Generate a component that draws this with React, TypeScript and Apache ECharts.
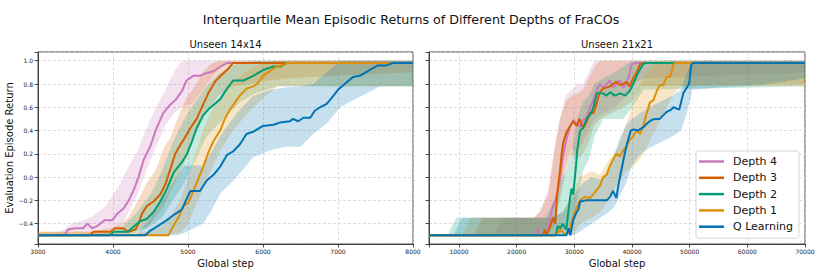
import React, { useEffect, useRef } from "react";
import * as echarts from "echarts";

// ---------- Data ----------
const SERIES_NAMES = ["Depth 4", "Depth 3", "Depth 2", "Depth 1", "Q Learning"];
const COLORS = ["#cc78bc", "#d55e00", "#029e73", "#de8f05", "#0173b2"];
const Y_TICKS = [-0.4, -0.2, 0.0, 0.2, 0.4, 0.6, 0.8, 1.0];
const LEFT_X_TICKS = [3000, 4000, 5000, 6000, 7000, 8000];
const RIGHT_X_TICKS = [10000, 20000, 30000, 40000, 50000, 60000, 70000];

// Unseen 14x14 — IQM lines [step, return]
const d4Left = [[3000,-0.5],[3350,-0.5],[3400,-0.45],[3500,-0.44],[3600,-0.44],[3660,-0.40],[3720,-0.44],[3790,-0.42],[3890,-0.37],[3990,-0.37],[4050,-0.32],[4140,-0.27],[4210,-0.20],[4270,-0.12],[4340,0.0],[4410,0.15],[4500,0.27],[4580,0.42],[4670,0.55],[4760,0.62],[4830,0.66],[4920,0.74],[4980,0.83],[5070,0.87],[5160,0.87],[5230,0.89],[5340,0.91],[5430,0.95],[5520,0.98],[8000,0.98]];
const d3Left = [[3000,-0.5],[3690,-0.5],[3740,-0.47],[3960,-0.47],[4030,-0.44],[4140,-0.44],[4200,-0.47],[4300,-0.45],[4340,-0.40],[4390,-0.31],[4450,-0.25],[4540,-0.21],[4630,-0.15],[4700,-0.06],[4760,0.06],[4830,0.20],[4900,0.28],[4960,0.34],[5030,0.42],[5115,0.50],[5200,0.62],[5270,0.72],[5360,0.82],[5450,0.88],[5520,0.92],[5600,0.98],[8000,0.98]];
const d2Left = [[3000,-0.5],[3950,-0.5],[4010,-0.47],[4200,-0.47],[4250,-0.44],[4360,-0.38],[4450,-0.36],[4540,-0.30],[4630,-0.21],[4720,-0.10],[4810,0.04],[4920,0.13],[4980,0.19],[5050,0.30],[5115,0.42],[5200,0.53],[5270,0.58],[5340,0.62],[5430,0.67],[5520,0.76],[5600,0.83],[5740,0.83],[5870,0.87],[6000,0.92],[6140,0.95],[6230,0.95],[6310,0.98],[8000,0.98]];
const d1Left = [[3000,-0.5],[4740,-0.5],[4805,-0.42],[4870,-0.35],[4940,-0.25],[5005,-0.22],[5070,-0.12],[5140,-0.01],[5205,0.09],[5270,0.21],[5340,0.31],[5430,0.40],[5490,0.50],[5560,0.58],[5690,0.70],[5780,0.76],[5870,0.78],[5920,0.80],[6000,0.87],[6090,0.91],[6180,0.95],[6250,0.96],[6320,0.98],[8000,0.98]];
const qLeft = [[3000,-0.5],[4430,-0.5],[4500,-0.46],[4600,-0.42],[4717,-0.37],[4800,-0.33],[4917,-0.28],[5030,-0.12],[5160,-0.12],[5250,-0.03],[5340,0.02],[5430,0.09],[5520,0.19],[5600,0.22],[5690,0.28],[5780,0.37],[5870,0.39],[6000,0.44],[6140,0.45],[6230,0.47],[6360,0.48],[6400,0.50],[6470,0.48],[6540,0.51],[6630,0.51],[6690,0.57],[6760,0.60],[6850,0.63],[6940,0.70],[7000,0.75],[7090,0.80],[7200,0.86],[7290,0.87],[7420,0.92],[7530,0.96],[7650,0.96],[7730,0.98],[8000,0.98]];

// Unseen 14x14 — interquartile bands [step, lower, upper]
const d4LeftBand = [[3000,-0.5,-0.48],[3300,-0.5,-0.47],[3450,-0.48,-0.40],[3700,-0.48,-0.35],[3900,-0.46,-0.25],[4100,-0.42,-0.05],[4200,-0.32,0.08],[4330,-0.14,0.23],[4500,0.15,0.50],[4700,0.45,0.75],[4830,0.56,0.92],[4920,0.60,1.0],[5050,0.63,1.0],[5200,0.75,1.0],[5350,0.88,1.0],[5500,0.98,1.0],[8000,0.98,1.0]];
const d3LeftBand = [[3000,-0.5,-0.47],[3700,-0.5,-0.47],[4000,-0.48,-0.43],[4100,-0.48,-0.40],[4200,-0.48,-0.35],[4333,-0.46,-0.20],[4450,-0.44,-0.05],[4560,-0.35,0.05],[4680,-0.25,0.25],[4773,-0.12,0.35],[4900,0.05,0.57],[5000,0.20,0.70],[5080,0.35,0.77],[5200,0.50,0.90],[5300,0.60,0.97],[5400,0.70,1.0],[5600,0.78,1.0],[6300,0.85,1.0],[8000,0.90,1.0]];
const d2LeftBand = [[3000,-0.5,-0.5],[3900,-0.5,-0.48],[4100,-0.5,-0.44],[4300,-0.48,-0.32],[4500,-0.42,-0.15],[4650,-0.35,0.05],[4800,-0.20,0.30],[4950,-0.05,0.50],[5100,0.15,0.65],[5250,0.35,0.78],[5400,0.45,0.88],[5550,0.55,0.95],[5700,0.65,0.98],[5900,0.72,1.0],[6200,0.78,1.0],[8000,0.78,1.0]];
const d1LeftBand = [[3000,-0.5,-0.47],[4500,-0.5,-0.47],[4700,-0.5,-0.40],[4900,-0.48,-0.20],[5000,-0.40,0.0],[5100,-0.25,0.20],[5200,-0.10,0.40],[5300,0.05,0.55],[5450,0.25,0.70],[5600,0.40,0.82],[5800,0.55,0.92],[6000,0.68,0.98],[6200,0.78,1.0],[8000,0.78,1.0]];
const qLeftBand = [[3000,-0.5,-0.5],[4300,-0.5,-0.5],[4500,-0.5,-0.35],[4700,-0.5,-0.15],[4850,-0.5,0.0],[4950,-0.48,0.10],[5200,-0.40,0.10],[5300,-0.30,0.20],[5430,-0.14,0.35],[5650,0.0,0.55],[5870,0.17,0.70],[6100,0.23,0.75],[6300,0.26,0.77],[6500,0.26,0.78],[6670,0.37,0.80],[6850,0.46,0.90],[7030,0.60,1.0],[7200,0.66,1.0],[7390,0.72,1.0],[7560,0.78,1.0],[8000,0.78,1.0]];

// Unseen 21x21 — IQM lines [step, return]
const d4Right = [[4800,-0.5],[23500,-0.5],[23700,-0.44],[23900,-0.5],[25200,-0.5],[25700,-0.37],[26300,-0.25],[26900,-0.17],[27500,-0.02],[28000,0.17],[28600,0.32],[29200,0.43],[29800,0.49],[30400,0.46],[31000,0.43],[31500,0.49],[32100,0.51],[32700,0.60],[33300,0.66],[33800,0.74],[34400,0.80],[35000,0.77],[35600,0.80],[36200,0.83],[36700,0.77],[37300,0.80],[37900,0.83],[38500,0.77],[39000,0.80],[39600,0.89],[39900,0.97],[40800,0.98],[70000,0.98]];
const d3Right = [[4800,-0.5],[24600,-0.5],[24900,-0.45],[25200,-0.5],[25700,-0.44],[26300,-0.35],[26700,-0.40],[27000,-0.15],[27500,0.05],[27800,0.20],[28100,0.30],[28600,0.38],[29200,0.43],[29800,0.48],[30400,0.44],[30900,0.50],[31500,0.42],[32100,0.47],[32700,0.55],[33300,0.55],[33800,0.62],[34400,0.73],[35000,0.76],[36200,0.78],[36700,0.80],[37300,0.82],[37900,0.79],[38500,0.80],[39000,0.82],[39600,0.78],[40200,0.85],[40800,0.90],[41400,0.97],[41900,0.98],[70000,0.98]];
const d2Right = [[4800,-0.5],[26800,-0.5],[27100,-0.42],[27600,-0.44],[28000,-0.40],[28600,-0.45],[29200,-0.20],[29500,-0.10],[29800,-0.15],[30300,0.10],[30500,0.23],[31000,0.40],[31500,0.42],[32200,0.51],[32700,0.53],[33300,0.60],[33900,0.72],[35000,0.72],[35500,0.70],[36200,0.73],[37000,0.70],[38000,0.72],[38800,0.70],[39600,0.74],[40200,0.80],[41000,0.89],[41900,0.97],[42300,0.98],[70000,0.98]];
const d1Right = [[4800,-0.5],[26900,-0.5],[27500,-0.45],[28600,-0.5],[29200,-0.45],[29800,-0.35],[30400,-0.26],[31000,-0.20],[31800,-0.17],[32700,-0.18],[33400,-0.14],[34400,-0.08],[35000,0.0],[35600,0.02],[36200,0.10],[36700,0.15],[37300,0.20],[37900,0.18],[38500,0.23],[39000,0.26],[39600,0.32],[40200,0.35],[40800,0.40],[41400,0.37],[41900,0.43],[42500,0.54],[43100,0.64],[43700,0.66],[44300,0.74],[44800,0.79],[45400,0.79],[46000,0.86],[46600,0.86],[47200,0.97],[47600,0.98],[70000,0.98]];
const qRight = [[4800,-0.5],[28600,-0.5],[29000,-0.44],[29300,-0.5],[29800,-0.37],[30400,-0.30],[30700,-0.28],[31000,-0.21],[32000,-0.20],[33500,-0.20],[35600,-0.20],[36200,-0.17],[36700,-0.12],[37300,-0.18],[37600,-0.08],[38000,0.02],[38600,0.17],[39200,0.30],[39800,0.40],[40400,0.41],[41000,0.40],[42000,0.43],[42600,0.46],[43400,0.49],[44000,0.50],[44800,0.50],[45400,0.53],[46000,0.56],[46800,0.58],[47200,0.60],[48200,0.58],[48900,0.72],[49500,0.77],[49900,0.80],[50300,0.97],[50600,0.98],[70000,0.98]];

// Unseen 21x21 — interquartile bands [step, lower, upper]
const d4RightBand = [[4800,-0.5,-0.5],[16000,-0.5,-0.5],[17500,-0.5,-0.35],[23000,-0.5,-0.35],[24000,-0.5,-0.30],[25500,-0.45,-0.10],[26500,-0.35,0.25],[27500,-0.15,0.50],[28500,0.10,0.70],[29500,0.25,0.75],[30500,0.20,0.80],[31500,0.30,0.80],[32500,0.40,0.90],[33500,0.50,1.0],[35000,0.55,1.0],[37000,0.60,1.0],[39000,0.70,1.0],[40000,0.80,1.0],[42000,0.85,1.0],[70000,0.90,1.0]];
const d3RightBand = [[4800,-0.5,-0.5],[12500,-0.5,-0.5],[14000,-0.5,-0.35],[23000,-0.5,-0.35],[24000,-0.5,-0.30],[25500,-0.48,-0.15],[26500,-0.42,0.20],[27500,-0.20,0.50],[28500,0.05,0.65],[29500,0.20,0.70],[30500,0.15,0.72],[31500,0.20,0.75],[32500,0.30,0.85],[33500,0.45,0.95],[34500,0.50,1.0],[36500,0.55,1.0],[38500,0.60,1.0],[40000,0.65,1.0],[41500,0.78,1.0],[70000,0.80,1.0]];
const d2RightBand = [[4800,-0.5,-0.5],[8000,-0.5,-0.5],[9500,-0.5,-0.35],[25000,-0.5,-0.35],[26500,-0.5,-0.20],[27500,-0.48,-0.05],[28500,-0.45,0.05],[29500,-0.40,0.20],[30500,-0.20,0.50],[31500,0.05,0.65],[32500,0.15,0.70],[33500,0.35,0.80],[35000,0.50,0.85],[37000,0.50,0.90],[38500,0.50,0.95],[40000,0.60,1.0],[42000,0.75,1.0],[70000,0.78,1.0]];
const d1RightBand = [[4800,-0.5,-0.5],[10500,-0.5,-0.5],[12000,-0.5,-0.35],[26000,-0.5,-0.35],[28000,-0.5,-0.30],[30000,-0.48,-0.10],[31000,-0.40,0.0],[33000,-0.35,0.05],[34500,-0.30,0.02],[36000,-0.20,0.15],[37500,-0.05,0.25],[39000,0.05,0.45],[40500,0.10,0.70],[42000,0.20,0.85],[43500,0.35,0.95],[45000,0.50,1.0],[47000,0.70,1.0],[48500,0.78,1.0],[70000,0.78,1.0]];
const qRightBand = [[4800,-0.5,-0.5],[9000,-0.5,-0.5],[10500,-0.5,-0.35],[26000,-0.5,-0.35],[28000,-0.5,-0.30],[30000,-0.5,-0.15],[31500,-0.45,-0.05],[33000,-0.40,0.0],[34500,-0.35,-0.02],[36000,-0.30,0.05],[37000,-0.25,0.20],[38000,-0.15,0.35],[39000,-0.05,0.45],[40000,0.10,0.50],[41500,0.20,0.55],[43000,0.25,0.60],[45000,0.30,0.65],[47000,0.35,0.70],[48500,0.40,0.75],[49500,0.55,0.90],[50500,0.75,1.0],[55000,0.77,1.0],[62000,0.79,1.0],[70000,0.85,1.0]];

const LEFT_LINES = [d4Left, d3Left, d2Left, d1Left, qLeft];
const LEFT_BANDS = [d4LeftBand, d3LeftBand, d2LeftBand, d1LeftBand, qLeftBand];
const RIGHT_LINES = [d4Right, d3Right, d2Right, d1Right, qRight];
const RIGHT_BANDS = [d4RightBand, d3RightBand, d2RightBand, d1RightBand, qRightBand];

const FONT = "DejaVu Sans";

function bandSeries(band: number[][], color: string, axisIndex: number, key: string) {
  return {
    type: "custom",
    id: key,
    xAxisIndex: axisIndex,
    yAxisIndex: axisIndex,
    silent: true,
    z: 1,
    data: band,
    encode: { x: 0, y: [1, 2] },
    renderItem: (params: any, api: any) => {
      if (params.dataIndex !== 0) return null;
      const upper = band.map((d) => api.coord([d[0], d[2]]));
      const lower = band.slice().reverse().map((d) => api.coord([d[0], d[1]]));
      return {
        type: "polygon",
        shape: { points: upper.concat(lower) },
        style: { fill: color, opacity: 0.22 },
      };
    },
  };
}

function lineSeries(name: string, data: number[][], color: string, axisIndex: number) {
  return {
    type: "line",
    name,
    xAxisIndex: axisIndex,
    yAxisIndex: axisIndex,
    data,
    showSymbol: false,
    symbol: "none",
    color,
    z: 3,
    lineStyle: { width: 2, color },
  };
}

const fmtY = (v: number) => {
  if (!Y_TICKS.some((t) => Math.abs(t - v) < 1e-6)) return "";
  return v.toFixed(1).replace("-", "\u2212");
};

function xAxis(gridIndex: number, min: number, max: number, ticks: number[], extra: any) {
  return {
    type: "value",
    gridIndex,
    min,
    max,
    ...extra,
    axisLine: { show: true, onZero: false, lineStyle: { color: "#222", width: 0.8 } },
    axisTick: { show: true, length: 3.5, lineStyle: { color: "#222", width: 0.8 } },
    axisLabel: {
      fontSize: 6,
      fontFamily: FONT,
      color: "#222",
      margin: 4,
      formatter: (v: number) => (ticks.includes(v) ? String(v) : ""),
    },
    splitLine: { show: true, lineStyle: { color: "#d0d0d0", width: 0.7, type: [3, 2] } },
    name: "Global step",
    nameLocation: "middle",
    nameGap: 9,
    nameTextStyle: { fontSize: 10, fontFamily: FONT, color: "#111" },
  };
}

function yAxis(gridIndex: number, showLabels: boolean) {
  return {
    type: "value",
    gridIndex,
    min: -0.575,
    max: 1.075,
    splitNumber: 8,
    minInterval: 0.2,
    maxInterval: 0.2,
    axisLine: { show: true, onZero: false, lineStyle: { color: "#222", width: 0.8 } },
    axisTick: { show: true, length: 3.5, lineStyle: { color: "#222", width: 0.8 } },
    axisLabel: { show: showLabels, fontSize: 6, fontFamily: FONT, color: "#222", margin: 5, formatter: fmtY },
    splitLine: { show: true, lineStyle: { color: "#d0d0d0", width: 0.7, type: [3, 2] } },
    ...(showLabels
      ? {
          name: "Evaluation Episode Return",
          nameLocation: "middle",
          nameGap: 23,
          nameTextStyle: { fontSize: 10, fontFamily: FONT, color: "#111" },
        }
      : {}),
  };
}

export default function App() {
  const ref = useRef<HTMLDivElement>(null);
  useEffect(() => {
    if (!ref.current) return;
    const chart = echarts.init(ref.current, null, { renderer: "svg" });
    const series: any[] = [];
    LEFT_BANDS.forEach((b, i) => series.push(bandSeries(b, COLORS[i], 0, "lb" + i)));
    RIGHT_BANDS.forEach((b, i) => series.push(bandSeries(b, COLORS[i], 1, "rb" + i)));
    LEFT_LINES.forEach((l, i) => series.push(lineSeries(SERIES_NAMES[i], l, COLORS[i], 0)));
    RIGHT_LINES.forEach((l, i) => series.push(lineSeries(SERIES_NAMES[i], l, COLORS[i], 1)));

    chart.setOption({
      animation: false,
      backgroundColor: "#ffffff",
      title: [
        {
          text: "Interquartile Mean Episodic Returns of Different Depths of FraCOs",
          left: 411,
          textAlign: "center",
          top: 13,
          padding: 0,
          textStyle: { fontSize: 12.7, fontWeight: "normal", fontFamily: FONT, color: "#111" },
        },
        {
          text: "Unseen 14x14",
          left: 225.5,
          textAlign: "center",
          top: 39,
          padding: 0,
          textStyle: { fontSize: 10, fontWeight: "normal", fontFamily: FONT, color: "#111" },
        },
        {
          text: "Unseen 21x21",
          left: 617,
          textAlign: "center",
          top: 39,
          padding: 0,
          textStyle: { fontSize: 10, fontWeight: "normal", fontFamily: FONT, color: "#111" },
        },
      ],
      grid: [
        { left: 38, top: 52, width: 375, height: 192, show: true, borderColor: "#222", borderWidth: 0.8, backgroundColor: "transparent" },
        { left: 429, top: 52, width: 376, height: 192, show: true, borderColor: "#222", borderWidth: 0.8, backgroundColor: "transparent" },
      ],
      xAxis: [
        xAxis(0, 3000, 8000, LEFT_X_TICKS, { interval: 1000 }),
        xAxis(1, 4800, 70000, RIGHT_X_TICKS, { splitNumber: 6, minInterval: 10000, maxInterval: 10000 }),
      ],
      yAxis: [yAxis(0, true), yAxis(1, false)],
      legend: {
        data: SERIES_NAMES,
        orient: "vertical",
        left: 696,
        top: 151,
        icon: "rect",
        itemWidth: 25,
        itemHeight: 2.5,
        itemGap: 5.3,
        padding: [5, 6, 6, 3],
        backgroundColor: "rgba(255,255,255,0.85)",
        borderColor: "#cccccc",
        borderWidth: 0.8,
        borderRadius: 3,
        textStyle: { fontSize: 11, fontFamily: FONT, color: "#111", padding: [0, 0, 0, 4] },
      },
      series,
    });
    return () => chart.dispose();
  }, []);
  return <div ref={ref} style={{ position: "absolute", left: 0, top: 0, width: 822, height: 274 }} />;
}
